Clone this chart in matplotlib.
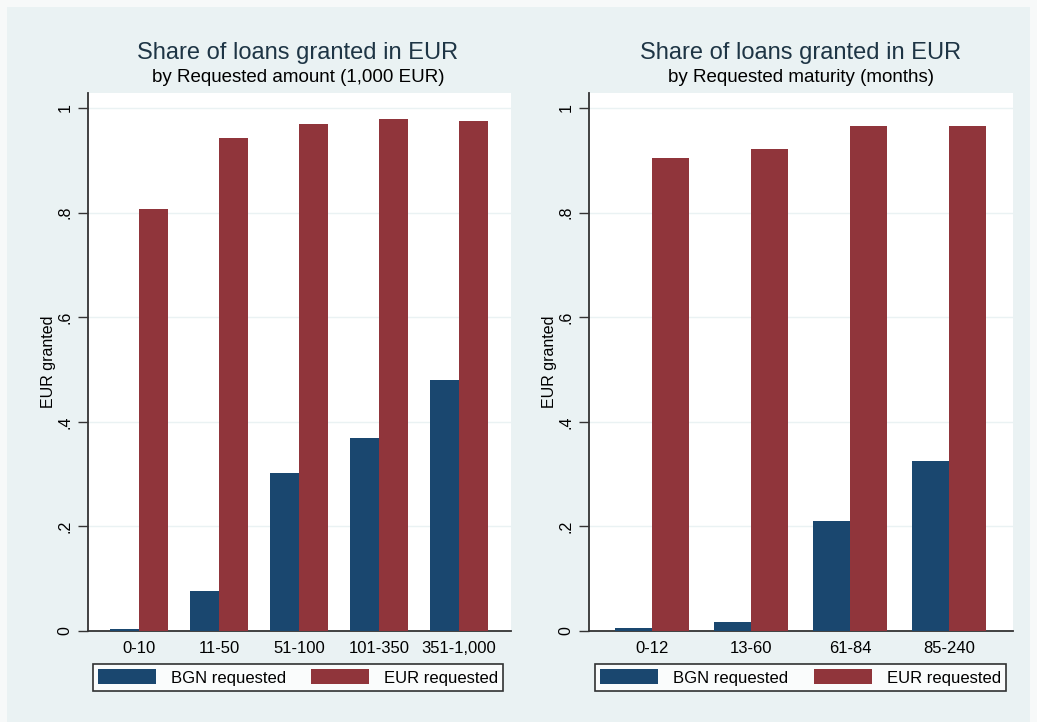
import matplotlib.pyplot as plt
import matplotlib.patches as mpatches
import numpy as np

plt.rcParams["font.family"] = ["Liberation Sans", "DejaVu Sans"]

# data
amount_cats = ["0-10", "11-50", "51-100", "101-350", "351-1,000"]
amount_bgn = [0.004, 0.076, 0.302, 0.369, 0.480]
amount_eur = [0.807, 0.943, 0.970, 0.979, 0.976]

maturity_cats = ["0-12", "13-60", "61-84", "85-240"]
maturity_bgn = [0.006, 0.017, 0.210, 0.325]
maturity_eur = [0.904, 0.921, 0.966, 0.966]

series_labels = ["BGN requested", "EUR requested"]
yticks = [0, 0.2, 0.4, 0.6, 0.8, 1.0]
ytick_labels = ["0", ".2", ".4", ".6", ".8", "1"]

navy = "#1A476F"
maroon = "#90353B"
bg = "#EAF2F3"

W, H = 1037, 722
fig = plt.figure(figsize=(W / 100, H / 100), dpi=100, facecolor="#F7F9F9")
fig.patches.append(mpatches.Rectangle((7 / W, 0), (W - 14) / W, (H - 7) / H,
                                      transform=fig.transFigure,
                                      facecolor=bg, edgecolor="none", zorder=-10))


def px(x0, y0, x1, y1):
    return [x0 / W, 1 - y1 / H, (x1 - x0) / W, (y1 - y0) / H]


def panel(rect, cats, bgn, eur, subtitle, width, leg_rect, title_x):
    ax = fig.add_axes(rect)
    ax.set_facecolor("white")
    x = np.arange(len(cats))
    ax.bar(x - width / 2, bgn, width, color=navy, label=series_labels[0], zorder=3)
    ax.bar(x + width / 2, eur, width, color=maroon, label=series_labels[1], zorder=3)
    ax.set_xlim(-0.64, len(cats) - 1 + 0.65)
    ax.set_ylim(0, 1.0287)
    ax.set_yticks(yticks)
    ax.set_yticklabels(ytick_labels, rotation=90, va="center", fontsize=11.5)
    ax.set_xticks(x)
    ax.set_xticklabels(cats, fontsize=12)
    ax.tick_params(axis="x", length=0, pad=7)
    ax.tick_params(axis="y", length=7, width=1, color="#333333", pad=4)
    for t in yticks:
        ax.axhline(t, color=bg, lw=1, zorder=1)
    for s in ["top", "right"]:
        ax.spines[s].set_visible(False)
    for s in ["left", "bottom"]:
        ax.spines[s].set_color("#333333")
        ax.spines[s].set_linewidth(1.3)
    ax.set_ylabel("EUR granted", fontsize=11.5, labelpad=1)
    fig.text(title_x / W, 1 - 53 / H, "Share of loans granted in EUR",
             ha="center", va="center", fontsize=17, color="#1E3545")
    fig.text(title_x / W, 1 - 78 / H, subtitle, ha="center", va="center",
             fontsize=13.5, color="black")
    leg = ax.legend(loc="center", bbox_to_anchor=leg_rect,
                    bbox_transform=fig.transFigure, ncol=2, mode="expand",
                    fontsize=12, handlelength=3.5, handleheight=1.0,
                    handletextpad=0.9, borderpad=0.3, fancybox=False,
                    frameon=True, borderaxespad=0)
    leg.get_frame().set_edgecolor("black")
    leg.get_frame().set_linewidth(1.2)
    return ax


panel(px(88, 93, 511, 631), amount_cats, amount_bgn, amount_eur,
      "by Requested amount (1,000 EUR)", 0.365,
      (93 / W, 1 - 692 / H, 410 / W, 29 / H), 298)
panel(px(589, 93, 1013, 631), maturity_cats, maturity_bgn, maturity_eur,
      "by Requested maturity (months)", 0.375,
      (595 / W, 1 - 692 / H, 411 / W, 29 / H), 801)

fig.savefig("out.png", dpi=100, facecolor=fig.get_facecolor())
